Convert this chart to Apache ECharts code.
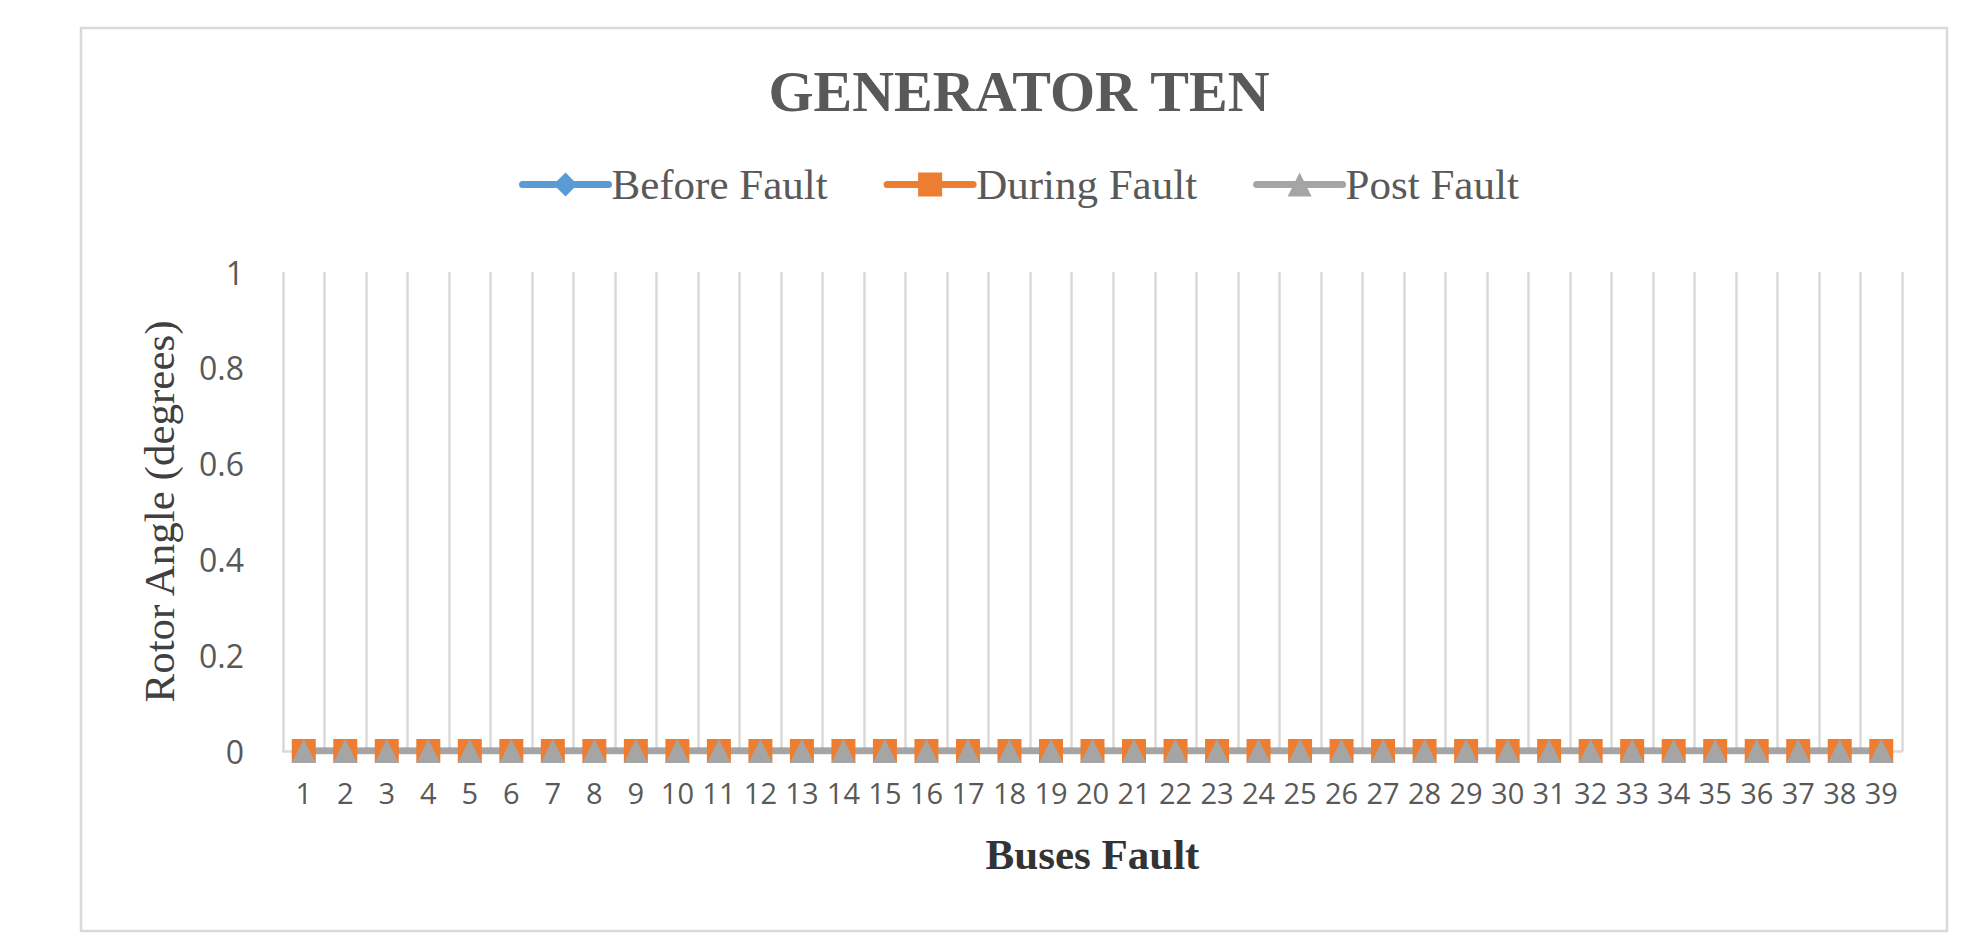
<!DOCTYPE html>
<html>
<head>
<meta charset="utf-8">
<script src="https://cdn.jsdelivr.net/npm/echarts@6/dist/echarts.min.js"></script>
<style>
html,body{margin:0;padding:0;background:#fff;overflow:hidden;}
#chart{width:1963px;height:943px;}
</style>
</head>
<body>
<div id="chart"></div>
<script>
const categories = ['1','2','3','4','5','6','7','8','9','10','11','12','13','14','15','16','17','18','19','20','21','22','23','24','25','26','27','28','29','30','31','32','33','34','35','36','37','38','39'];
const beforeFault = [0,0,0,0,0,0,0,0,0,0,0,0,0,0,0,0,0,0,0,0,0,0,0,0,0,0,0,0,0,0,0,0,0,0,0,0,0,0,0];
const duringFault = [0,0,0,0,0,0,0,0,0,0,0,0,0,0,0,0,0,0,0,0,0,0,0,0,0,0,0,0,0,0,0,0,0,0,0,0,0,0,0];
const postFault   = [0,0,0,0,0,0,0,0,0,0,0,0,0,0,0,0,0,0,0,0,0,0,0,0,0,0,0,0,0,0,0,0,0,0,0,0,0,0,0];
const yTicks = { min: 0, max: 1, interval: 0.2 };

const chart = echarts.init(document.getElementById('chart'), null, { renderer: 'svg' });
const serif = '"Liberation Serif", "Times New Roman", serif';
const sans = '"Open Sans", Calibri, sans-serif';

function lineSeries(name, data, color, symbol) {
  return {
    name: name, type: 'line', data: data,
    symbol: symbol, symbolSize: 24,
    lineStyle: { color: color, width: 6.5, cap: 'round' },
    itemStyle: { color: color },
    animation: false
  };
}

chart.setOption({
  animation: false,
  backgroundColor: '#ffffff',
  graphic: [{
    type: 'rect', shape: { x: 81, y: 28, width: 1866, height: 903 },
    style: { fill: 'none', stroke: '#d9d9d9', lineWidth: 2.5 }, z: -1
  }],
  title: {
    text: 'GENERATOR TEN', left: 1014, top: 57, textAlign: 'center',
    textStyle: { fontFamily: serif, fontWeight: 'bold', fontSize: 58, color: '#595959' }
  },
  legend: {
    left: 514, top: 158, itemWidth: 86, itemHeight: 30, itemGap: 56,
    lineStyle: { width: 7, cap: 'round' },
    textStyle: { fontFamily: serif, fontSize: 43, color: '#595959', padding: [0, 0, 0, -2] },
    data: ['Before Fault', 'During Fault', 'Post Fault']
  },
  grid: { left: 283, right: 61, top: 272, bottom: 192, containLabel: false },
  xAxis: {
    type: 'category', data: categories, boundaryGap: true,
    name: 'Buses Fault', nameLocation: 'middle', nameGap: 82,
    nameTextStyle: { fontFamily: serif, fontWeight: 'bold', fontSize: 43, color: '#333333' },
    axisLine: { show: true, lineStyle: { color: '#d9d9d9', width: 2.5 } },
    axisTick: { show: false },
    axisLabel: { interval: 0, margin: 27, fontFamily: sans, fontSize: 29, color: '#595959' },
    splitLine: { show: true, interval: 0, lineStyle: { color: '#d9d9d9', width: 2.5 } }
  },
  yAxis: {
    type: 'value', min: yTicks.min, max: yTicks.max, interval: yTicks.interval,
    name: 'Rotor Angle (degrees)', nameLocation: 'middle', nameGap: 102, nameRotate: 90,
    nameTextStyle: { fontFamily: serif, fontSize: 43, color: '#404040' },
    axisLine: { show: false }, axisTick: { show: false },
    axisLabel: { margin: 39, fontFamily: sans, fontSize: 32, color: '#595959' },
    splitLine: { show: false }
  },
  series: [
    lineSeries('Before Fault', beforeFault, '#5b9bd5', 'diamond'),
    lineSeries('During Fault', duringFault, '#ed7d31', 'rect'),
    lineSeries('Post Fault', postFault, '#a5a5a5', 'triangle')
  ]
});
</script>
</body>
</html>
